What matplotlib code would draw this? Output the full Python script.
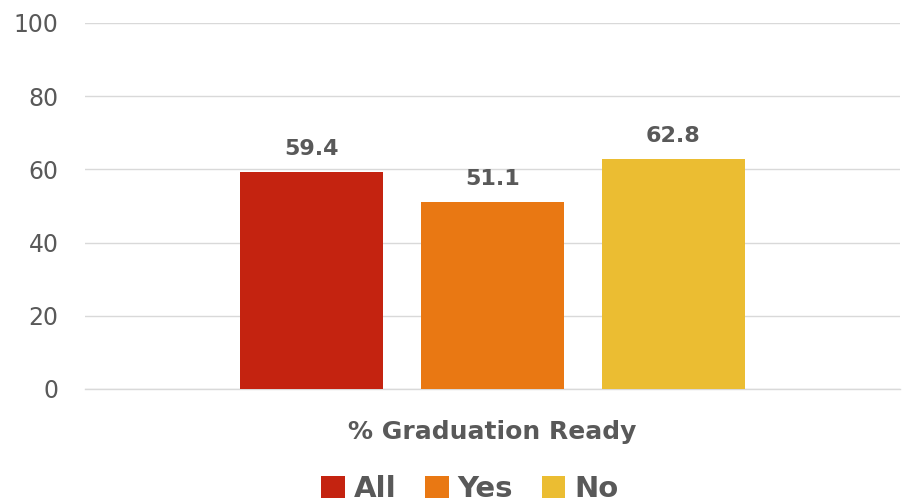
import matplotlib.pyplot as plt

# data
series = ["All", "Yes", "No"]
values = [59.4, 51.1, 62.8]
colors = ["#C42310", "#E97813", "#EBBD32"]
category = "% Graduation Ready"
yticks = [0, 20, 40, 60, 80, 100]

plt.rcParams["font.family"] = ["DejaVu Sans"]

fig = plt.figure(figsize=(9.09, 5.04), dpi=100)
ax = fig.add_axes([0.0935, 0.2282, 0.8966, 0.7262])

largura = 0.1755
passo = 0.222
for i, (nome, v, c) in enumerate(zip(series, values, colors)):
    x = (i - 1) * passo
    ax.bar(x, v, width=largura, color=c, label=nome, zorder=3)
    ax.text(x, v + 3.5, f"{v:.1f}", ha="center", va="bottom",
            fontsize=16, fontweight="bold", color="#595959")

ax.set_xlim(-0.5, 0.5)
ax.set_ylim(0, 100)
ax.set_yticks(yticks)
ax.set_yticklabels([str(t) for t in yticks], fontsize=17, color="#595959")
ax.set_xticks([0])
ax.set_xticklabels([category], fontsize=18, fontweight="bold", color="#595959")
ax.tick_params(axis="x", length=0, pad=22)
ax.tick_params(axis="y", length=0, pad=19)
ax.grid(axis="y", color="#D9D9D9", linewidth=1, zorder=0)
ax.axhline(0, color="#D9D9D9", linewidth=1, zorder=1, clip_on=False)
for s in ax.spines.values():
    s.set_visible(False)

leg = fig.legend(loc="lower center", bbox_to_anchor=(0.517, -0.05), ncol=3,
                 frameon=False, fontsize=21, handlelength=0.8, handleheight=0.8,
                 handletextpad=0.3, columnspacing=1.0)
for t in leg.get_texts():
    t.set_color("#595959")
    t.set_fontweight("bold")

fig.savefig("out.png", dpi=100)
